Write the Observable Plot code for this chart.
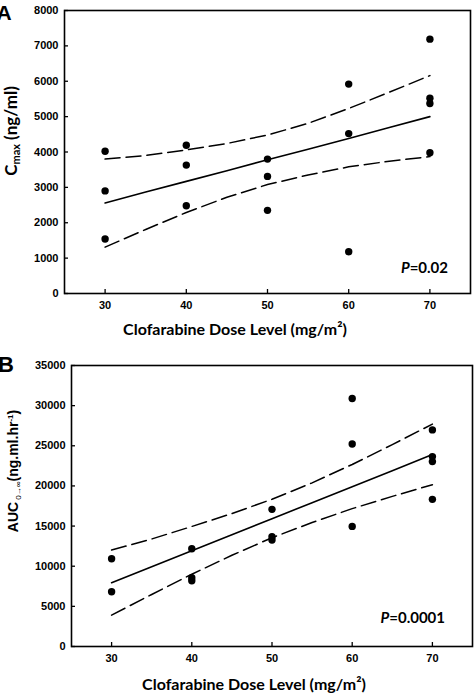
<!DOCTYPE html>
<html>
<head>
<meta charset="utf-8">
<script src="https://cdn.jsdelivr.net/npm/d3@7"></script>
<script src="https://cdn.jsdelivr.net/npm/@observablehq/plot@0.6"></script>
<style>
  html, body { margin: 0; padding: 0; background: #fff; }
  #chart svg { display: block; }
</style>
</head>
<body>
<div id="chart"></div>
<script>
// ---- Panel A data: Cmax (ng/ml) by dose ----
const doseA = [30, 30, 30, 40, 40, 40, 50, 50, 50, 60, 60, 60, 70, 70, 70, 70];
const cmax  = [4020, 2900, 1540, 4190, 3630, 2480, 3800, 3310, 2350, 5920, 4520, 1180, 7190, 5520, 5370, 3980];

// ---- Panel B data: AUC 0->inf by dose ----
const doseB = [30, 30, 40, 40, 40, 50, 50, 50, 60, 60, 60, 70, 70, 70, 70];
const auc   = [10930, 6820, 12180, 8560, 8190, 17080, 13680, 13260, 30890, 25230, 14960, 26980, 23650, 23030, 18330];

// ---- Regression lines and 95% confidence bounds ----
const fitX   = [30, 35, 40, 45, 50, 55, 60, 65, 70];
const fitA   = [2560, 2870, 3170, 3470, 3780, 4080, 4380, 4690, 5000];
const upperA = [3800, 3900, 4060, 4240, 4480, 4810, 5230, 5690, 6160];
const lowerA = [1310, 1810, 2290, 2720, 3080, 3350, 3580, 3740, 3870];
const fitB   = [7940, 9930, 11930, 13920, 15920, 17910, 19910, 21900, 23900];
const upperB = [12010, 13390, 14950, 16560, 18340, 20380, 22670, 25140, 27700];
const lowerB = [3910, 6480, 9000, 11360, 13550, 15440, 17170, 18700, 20150];

const xTicks  = [30, 40, 50, 60, 70];
const yTicksA = [0, 1000, 2000, 3000, 4000, 5000, 6000, 7000, 8000];
const yTicksB = [0, 5000, 10000, 15000, 20000, 25000, 30000, 35000];

const pA = "0.02";
const pB = "0.0001";
const xLabel = "Clofarabine Dose Level (mg/m²)";

const toPts = (xs, ys) => xs.map((x, i) => ({x, y: ys[i]}));
const arial = "'Liberation Sans', Arial, sans-serif";
const calibri = "Lato, 'Open Sans', sans-serif";
const fmt = d => String(d);

function panel({dose, vals, fit, upper, lower, yTicks, yMax, height, margins}) {
  const pts = toPts(dose, vals);
  return Plot.plot({
    width: 474,
    height,
    ...margins,
    style: {fontFamily: arial, fontSize: "11px", fontWeight: "bold", color: "#000", background: "#fff", overflow: "visible"},
    x: {domain: [25, 75]},
    y: {domain: [0, yMax]},
    marks: [
      Plot.frame({stroke: "#000", strokeWidth: 1.6}),
      Plot.axisX({ticks: xTicks, tickSize: -4, tickPadding: 12, label: null, tickFormat: fmt, stroke: "#000", strokeWidth: 1.3, fontFamily: arial, fontWeight: "bold", fontSize: 11}),
      Plot.axisY({ticks: yTicks, tickSize: -4, tickPadding: 10, label: null, tickFormat: fmt, stroke: "#000", strokeWidth: 1.3, fontFamily: arial, fontWeight: "bold", fontSize: 11}),
      Plot.line(toPts(fitX, upper), {x: "x", y: "y", stroke: "#000", strokeWidth: 1.5, strokeDasharray: "15,6"}),
      Plot.line(toPts(fitX, lower), {x: "x", y: "y", stroke: "#000", strokeWidth: 1.5, strokeDasharray: "15,6"}),
      Plot.line(toPts(fitX, fit), {x: "x", y: "y", stroke: "#000", strokeWidth: 1.6}),
      Plot.dot(pts, {x: "x", y: "y", r: 3.7, fill: "#000", stroke: null})
    ]
  });
}

const svgA = panel({dose: doseA, vals: cmax, fit: fitA, upper: upperA, lower: lowerA,
  yTicks: yTicksA, yMax: 8000, height: 340,
  margins: {marginLeft: 64, marginRight: 4, marginTop: 10, marginBottom: 47}});
const svgB = panel({dose: doseB, vals: auc, fit: fitB, upper: upperB, lower: lowerB,
  yTicks: yTicksB, yMax: 35000, height: 356,
  margins: {marginLeft: 71, marginRight: 2, marginTop: 25, marginBottom: 50}});

const root = document.getElementById("chart");
root.append(svgA, svgB);

// Panel A annotations
{
  const s = d3.select(svgA);
  s.append("text").attr("x", 4).attr("y", 20).attr("font-family", arial).attr("font-size", 21).attr("font-weight", "bold").text("A");
  s.append("text").attr("x", 235).attr("y", 335).attr("text-anchor", "middle").attr("font-family", calibri).attr("font-size", 16).attr("font-weight", "bold").text(xLabel);
  const yl = s.append("text").attr("transform", "translate(17,131) rotate(-90)").attr("text-anchor", "middle")
    .attr("font-family", calibri).attr("font-size", 17).attr("font-weight", "bold");
  yl.append("tspan").text("C");
  yl.append("tspan").attr("font-size", 11).attr("dy", 3).text("max");
  yl.append("tspan").attr("dy", -3).text(" (ng/ml)");
  const p = s.append("text").attr("x", 448).attr("y", 273).attr("text-anchor", "end").attr("font-family", calibri).attr("font-size", 15).attr("font-weight", "bold");
  p.append("tspan").attr("font-style", "italic").text("P");
  p.append("tspan").text("=" + pA);
}

// Panel B annotations
{
  const s = d3.select(svgB);
  s.append("text").attr("x", 6).attr("y", 32).attr("font-family", arial).attr("font-size", 22).attr("font-weight", "bold").text("B");
  s.append("text").attr("x", 254).attr("y", 350).attr("text-anchor", "middle").attr("font-family", calibri).attr("font-size", 16).attr("font-weight", "bold").text(xLabel);
  const yl = s.append("text").attr("transform", "translate(18,131) rotate(-90)").attr("text-anchor", "middle")
    .attr("font-family", arial).attr("font-size", 14).attr("font-weight", "bold");
  yl.append("tspan").text("AUC");
  yl.append("tspan").attr("font-size", 8).attr("font-weight", "normal").attr("dy", 3).text(" 0→∞");
  yl.append("tspan").attr("dy", -3).text("(ng.ml.hr");
  yl.append("tspan").attr("font-size", 8).attr("dy", -5).text("-1");
  yl.append("tspan").attr("dy", 5).text(")");
  const p = s.append("text").attr("x", 445).attr("y", 283).attr("text-anchor", "end").attr("font-family", calibri).attr("font-size", 15).attr("font-weight", "bold");
  p.append("tspan").attr("font-style", "italic").text("P");
  p.append("tspan").text("=" + pB);
}
</script>
</body>
</html>
